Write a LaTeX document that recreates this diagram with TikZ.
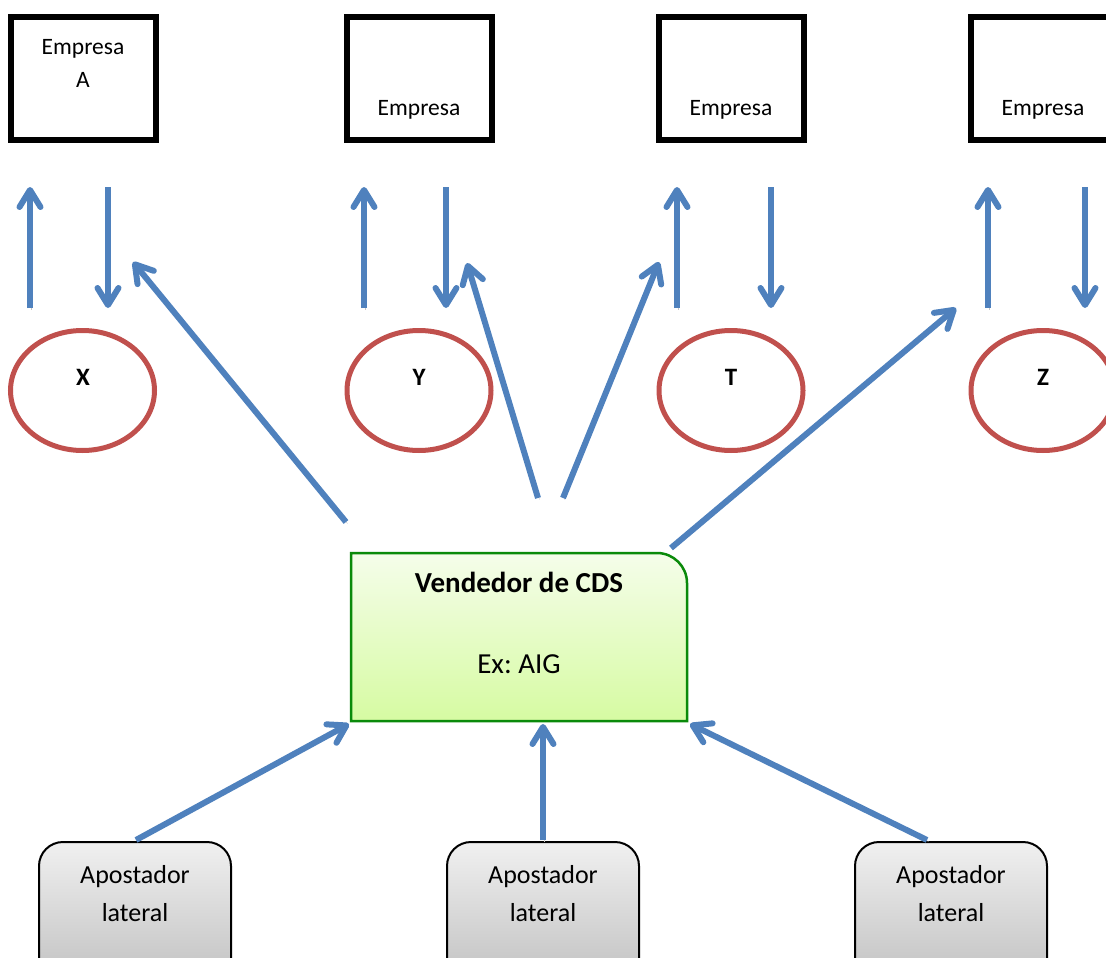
\documentclass[tikz,border=0pt]{standalone}
\usepackage{fontspec}
\setmainfont{Carlito}
\usetikzlibrary{arrows.meta,shapes.geometric}
\definecolor{ablue}{HTML}{4F81BD}
\definecolor{ered}{HTML}{C0504D}
\definecolor{gborder}{HTML}{0A8A0A}
\definecolor{gtop}{HTML}{F5FDEA}
\definecolor{gbot}{HTML}{D6FBA2}
\definecolor{ptop}{HTML}{F0F0F0}
\definecolor{pbot}{HTML}{BEBEBE}
\frenchspacing
\begin{document}
\begin{tikzpicture}[x=1pt,y=-1pt,
  empbox/.style={draw=black, line width=6pt, minimum width=145pt, minimum height=122pt, inner sep=0pt},
  ell/.style={draw=ered, line width=5pt, ellipse, minimum width=144pt, minimum height=120pt, inner sep=0pt},
  txt/.style={font=\fontsize{23.5}{28}\selectfont, anchor=base, inner sep=0pt},
  btxt/.style={font=\fontsize{25}{29}\selectfont\bfseries, anchor=base, inner sep=0pt},
  gtxt/.style={font=\fontsize{29}{34}\selectfont, anchor=base, inner sep=0pt},
  ptxt/.style={font=\fontsize{26}{30}\selectfont, anchor=base, inner sep=0pt},
  arr/.style={draw=ablue, line width=6pt, -{Straight Barb[length=17pt,width=21pt,round]},
    preaction={draw=gray!45, transform canvas={shift={(1.5pt,-1.5pt)}}}},
  pbox/.style={draw=black, line width=2pt, rounded corners=24pt, top color=ptop, bottom color=pbot, minimum width=192pt, minimum height=150pt, inner sep=0pt}
]
\useasboundingbox (0,0) rectangle (1106,958);
\clip (0,0) rectangle (1106,958);

% top boxes
\node[empbox] (e1) at (83,78.5) {};
\node[empbox] (e2) at (419,78.5) {};
\node[empbox] (e3) at (731,78.5) {};
\node[empbox] (e4) at (1043,78.5) {};
\node[txt] (e1a) at (83,55) {Empresa};
\node[txt] (e1b) at (83,88) {A};
\node[txt] (e2a) at (419,115) {Empresa};
\node[txt] (e3a) at (731,115) {Empresa};
\node[txt] (e4a) at (1043,115) {Empresa};

% ellipses
\node[ell] (x) at (82.5,390.5) {};
\node[ell] (y) at (419,390.5) {};
\node[ell] (t) at (731,390.5) {};
\node[ell] (z) at (1043,390.5) {};
\node[btxt] (xl) at (83,385) {X};
\node[btxt] (yl) at (419,385) {Y};
\node[btxt] (tl) at (731,385) {T};
\node[btxt] (zl) at (1043,385) {Z};

% vertical arrows coordinates
\coordinate (u1a) at (30,308);  \coordinate (u1b) at (30,187);
\coordinate (d1a) at (108,187); \coordinate (d1b) at (108,308);
\coordinate (u2a) at (364,308); \coordinate (u2b) at (364,187);
\coordinate (d2a) at (446,187); \coordinate (d2b) at (446,308);
\coordinate (u3a) at (677,308); \coordinate (u3b) at (677,187);
\coordinate (d3a) at (771,187); \coordinate (d3b) at (771,308);
\coordinate (u4a) at (988,308); \coordinate (u4b) at (988,187);
\coordinate (d4a) at (1085,187); \coordinate (d4b) at (1085,308);
\foreach \a/\b in {u1a/u1b,d1a/d1b,u2a/u2b,d2a/d2b,u3a/u3b,d3a/d3b,u4a/u4b,d4a/d4b}
  \draw[arr] (\a) -- (\b);

% green box
\draw[draw=gborder, line width=2.5pt, top color=gtop, bottom color=gbot]
  (351,721) -- (351,553) -- (657,553) arc[start angle=-90, end angle=0, radius=30] -- (687,721) -- cycle;
\node[gtxt, font=\fontsize{29}{34}\selectfont\bfseries] (vt) at (519,592) {Vendedor de CDS};
\node[gtxt] (vex) at (519,673) {Ex: AIG};

% diagonal arrows
\coordinate (s1) at (346,522); \coordinate (t1) at (133,262);
\coordinate (s2) at (538,498); \coordinate (t2) at (467,263);
\coordinate (s3) at (563,498); \coordinate (t3) at (659,262);
\coordinate (s4) at (671,548); \coordinate (t4) at (956,308);
\draw[arr] (s1) -- (t1);
\draw[arr] (s2) -- (t2);
\draw[arr] (s3) -- (t3);
\draw[arr] (s4) -- (t4);

% bottom boxes
\node[pbox] (p1) at (135,917) {};
\node[pbox] (p2) at (543,917) {};
\node[pbox] (p3) at (951,917) {};
\node[ptxt] (p1a) at (135,883) {Apostador};
\node[ptxt] (p1b) at (135,921) {lateral};
\node[ptxt] (p2a) at (543,883) {Apostador};
\node[ptxt] (p2b) at (543,921) {lateral};
\node[ptxt] (p3a) at (951,883) {Apostador};
\node[ptxt] (p3b) at (951,921) {lateral};

% bottom arrows
\coordinate (b1) at (136,840); \coordinate (g1) at (349,724);
\coordinate (b2) at (543,840); \coordinate (g2) at (543,724);
\coordinate (b3) at (927,840); \coordinate (g3) at (690,724);
\draw[arr] (b1) -- (g1);
\draw[arr] (b2) -- (g2);
\draw[arr] (b3) -- (g3);
\end{tikzpicture}
\end{document}
